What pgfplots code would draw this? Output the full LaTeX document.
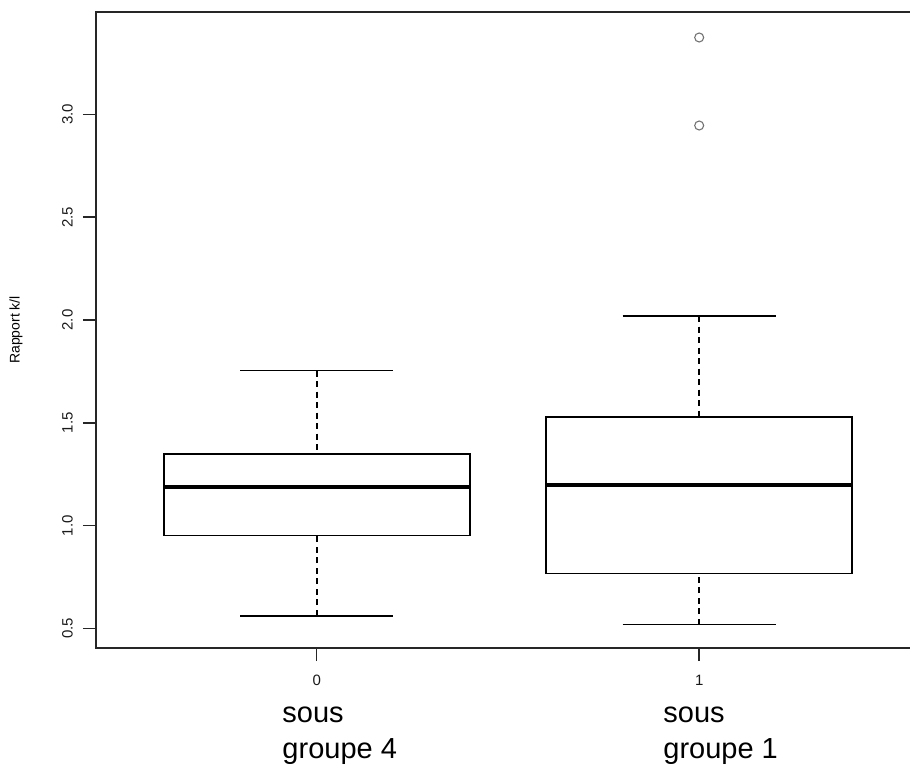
\documentclass[border=0pt]{standalone}
\usepackage{pgfplots}
\pgfplotsset{compat=1.18}
\usepgfplotslibrary{statistics}
\usepackage{fontspec}
\setmainfont{Liberation Sans}
\begin{document}
\begin{tikzpicture}[x=1pt,y=1pt]
\useasboundingbox (-96,-118) rectangle (814,648);
\begin{axis}[
  at={(0,0)}, anchor=south west,
  scale only axis,
  width=830pt, height=636pt,
  xmin=-0.577, xmax=1.593,
  ymin=0.405, ymax=3.498,
  axis line style={line width=1.6pt, black!85},
  tick align=outside,
  major tick length=13pt,
  xtick style={draw=black!85, line width=1.6pt},
  ytick style={draw=black!85, line width=1.6pt},
  xtick={0,1}, xticklabels={0,1},
  xtick pos=bottom, ytick pos=left,
  ytick={0.5,1.0,1.5,2.0,2.5,3.0},
  yticklabels={0.5,1.0,1.5,2.0,2.5,3.0},
  /pgf/number format/assume math mode=true,
  ticklabel style={font=\fontsize{15}{17}\selectfont, text=black!90},
  yticklabel style={rotate=90, anchor=south, inner sep=0pt, yshift=10pt},
  xticklabel style={anchor=north, inner sep=0pt, yshift=-14pt},
  ylabel={Rapport k/l},
  ylabel style={font=\fontsize{14}{16}\selectfont, at={(axis description cs:0,0.5)}, anchor=south, yshift=70pt},
  clip=false,
  boxplot/draw direction=y,
  boxplot/box extend=0.8,
  boxplot/whisker extend=0.4,
  boxplot/every box/.style={draw=black, line width=1.8pt},
  boxplot/every median/.style={draw=black, line width=4pt},
  boxplot/draw/lower whisker/.code={%
    \draw[black, line width=1.7pt, dash pattern=on 6pt off 4.5pt]
      (boxplot cs:\pgfplotsboxplotvalue{lower whisker},0) -- (boxplot cs:\pgfplotsboxplotvalue{lower quartile},0);
    \draw[black, line width=1.6pt]
      (boxplot whisker cs:\pgfplotsboxplotvalue{lower whisker},0) -- (boxplot whisker cs:\pgfplotsboxplotvalue{lower whisker},1);
  },
  boxplot/draw/upper whisker/.code={%
    \draw[black, line width=1.7pt, dash pattern=on 6pt off 4.5pt]
      (boxplot cs:\pgfplotsboxplotvalue{upper whisker},0) -- (boxplot cs:\pgfplotsboxplotvalue{upper quartile},0);
    \draw[black, line width=1.6pt]
      (boxplot whisker cs:\pgfplotsboxplotvalue{upper whisker},0) -- (boxplot whisker cs:\pgfplotsboxplotvalue{upper whisker},1);
  },
]
\addplot[black, boxplot prepared={draw position=0,
  lower whisker=0.562, lower quartile=0.952, median=1.189,
  upper quartile=1.347, upper whisker=1.754}]
  coordinates {};
\addplot[black, mark=o, mark size=4.5pt, mark options={draw=black!55, line width=1.1pt},
  boxplot prepared={draw position=1,
  lower whisker=0.519, lower quartile=0.767, median=1.198,
  upper quartile=1.530, upper whisker=2.019}]
  table[row sep=\\, y index=0] {3.374\\ 2.946\\};
\node[anchor=base west, align=left, font=\fontsize{29}{36}\selectfont, inner sep=0pt]
  at (axis cs:-0.09,0.405) [yshift=-74pt] {sous};
\node[anchor=base west, align=left, font=\fontsize{29}{36}\selectfont, inner sep=0pt]
  at (axis cs:-0.09,0.405) [yshift=-110pt] {groupe 4};
\node[anchor=base west, align=left, font=\fontsize{29}{36}\selectfont, inner sep=0pt]
  at (axis cs:0.906,0.405) [yshift=-74pt] {sous};
\node[anchor=base west, align=left, font=\fontsize{29}{36}\selectfont, inner sep=0pt]
  at (axis cs:0.906,0.405) [yshift=-110pt] {groupe 1};
\end{axis}
\end{tikzpicture}
\end{document}
